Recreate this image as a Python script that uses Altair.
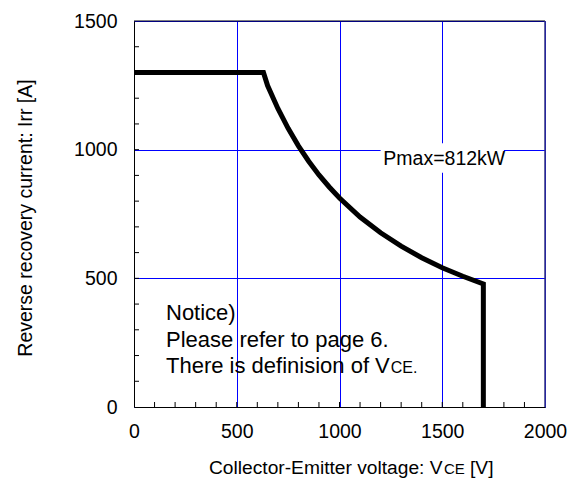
import altair as alt
import pandas as pd

# ---- data ----
vce = [0, 630, 650, 700, 750, 800, 850, 900, 950, 1000, 1100, 1200, 1300, 1400, 1500, 1600, 1700, 1700]
irr = [1300, 1300, 1249, 1160, 1083, 1015, 955, 902, 855, 812, 738, 677, 625, 580, 541, 508, 478, 0]

x_ticks = [0, 500, 1000, 1500, 2000]
y_ticks = [0, 500, 1000, 1500]
x_minor = list(range(100, 2000, 100))
y_minor = list(range(100, 1500, 100))

pmax_label = ["Pmax=812kW"]
pmax_pos = [1510, 965]
pmax_box_x = [1200, 1800]
pmax_box_y = [910, 1025]

notice_lines = ["Notice)", "Please refer to page 6.", "There is definision of V"]
notice_sub = ["CE."]

x_title = ["Collector-Emitter voltage: V", "CE", "[V]"]
y_title = ["Reverse recovery current: Irr [A]"]

W, H = 411, 386
FONT = "Liberation Sans"
BLUE = "#0000ff"
NFS = 22

curve = pd.DataFrame({"v": vce, "i": irr, "o": list(range(len(vce)))})

xs = alt.Scale(domain=[0, 2000], nice=False, zero=True)
ys = alt.Scale(domain=[0, 1500], nice=False, zero=True)

x_axis = alt.Axis(values=x_ticks, grid=True, gridColor=BLUE, gridWidth=1, ticks=False, tickSize=0,
                  domainColor="black", domainWidth=1, labelFont=FONT, labelFontSize=19.5, format="d",
                  labelColor="black", labelPadding=15, title=None, labelFlush=False)
y_axis = alt.Axis(values=y_ticks, grid=True, gridColor=BLUE, gridWidth=1, ticks=False, tickSize=0,
                  domainColor="black", domainWidth=1, labelFont=FONT, labelFontSize=19.5, format="d",
                  labelColor="black", labelPadding=17, title=None, labelFlush=False)

base_line = alt.Chart(curve).mark_line(color="black", strokeWidth=5, strokeJoin="miter").encode(
    x=alt.X("v:Q", scale=xs, axis=x_axis),
    y=alt.Y("i:Q", scale=ys, axis=y_axis),
    order="o:O",
)

box = alt.Chart(pd.DataFrame({"x": [pmax_box_x[0]], "x2": [pmax_box_x[1]],
                              "y": [pmax_box_y[0]], "y2": [pmax_box_y[1]]})).mark_rect(
    color="white").encode(x=alt.X("x:Q", scale=xs), x2="x2:Q", y=alt.Y("y:Q", scale=ys), y2="y2:Q")

pmax = alt.Chart(pd.DataFrame({"t": pmax_label, "x": [pmax_pos[0]], "y": [pmax_pos[1]]})).mark_text(
    font=FONT, fontSize=19.5, align="center", baseline="middle", color="black").encode(
    x=alt.X("x:Q", scale=xs), y=alt.Y("y:Q", scale=ys), text="t:N")

# minor ticks (inward)
xt = alt.Chart(pd.DataFrame({"v": x_minor})).mark_tick(
    color="black", orient="vertical", size=5, thickness=1, opacity=1).encode(
    x=alt.X("v:Q", scale=xs), y=alt.value(H - 2.5))
yt = alt.Chart(pd.DataFrame({"v": y_minor})).mark_tick(
    color="black", orient="horizontal", size=5, thickness=1, opacity=1).encode(
    y=alt.Y("v:Q", scale=ys), x=alt.value(2.5))

# borders
top = alt.Chart(pd.DataFrame({"y": [1500]})).mark_rule(color="black", strokeWidth=1.2).encode(
    y=alt.Y("y:Q", scale=ys))
right = alt.Chart(pd.DataFrame({"x": [2000]})).mark_rule(color="#333380", strokeWidth=1.5).encode(
    x=alt.X("x:Q", scale=xs))

# notice text
notice = alt.Chart(pd.DataFrame({"t": notice_lines, "yy": [299, 326, 352]})).mark_text(
    font=FONT, fontSize=NFS, align="left", baseline="alphabetic", color="black").encode(
    x=alt.value(32), y=alt.Y("yy:Q", scale=None), text="t:N")
notice2 = alt.Chart(pd.DataFrame({"t": notice_sub})).mark_text(
    font=FONT, fontSize=16, align="left", baseline="alphabetic", color="black").encode(
    x=alt.value(32 + 10.171 * NFS + 1), y=alt.value(352), text="t:N")

# axis titles as text
xt1 = alt.Chart(pd.DataFrame({"t": [x_title[0]]})).mark_text(
    font=FONT, fontSize=19.2, align="left", baseline="alphabetic", color="black").encode(
    x=alt.value(75), y=alt.value(453), text="t:N")
xt2 = alt.Chart(pd.DataFrame({"t": [x_title[1]]})).mark_text(
    font=FONT, fontSize=15, align="left", baseline="alphabetic", color="black").encode(
    x=alt.value(310), y=alt.value(453), text="t:N")
xt3 = alt.Chart(pd.DataFrame({"t": [x_title[2]]})).mark_text(
    font=FONT, fontSize=19.2, align="left", baseline="alphabetic", color="black").encode(
    x=alt.value(336), y=alt.value(453), text="t:N")
yt1 = alt.Chart(pd.DataFrame({"t": y_title})).mark_text(
    font=FONT, fontSize=19.5, align="center", baseline="alphabetic", angle=270, color="black").encode(
    x=alt.value(-102), y=alt.value(197), text="t:N")

chart = alt.layer(box, pmax, xt, yt, top, right, base_line, notice, notice2, xt1, xt2, xt3, yt1).properties(
    width=W, height=H,
    autosize=alt.AutoSizeParams(type="none"),
    padding={"left": 126, "top": 13, "right": 25, "bottom": 72},
).configure_view(stroke=None).configure(background="white")

chart.save("out.html", embed_options={"renderer": "svg", "actions": False})
